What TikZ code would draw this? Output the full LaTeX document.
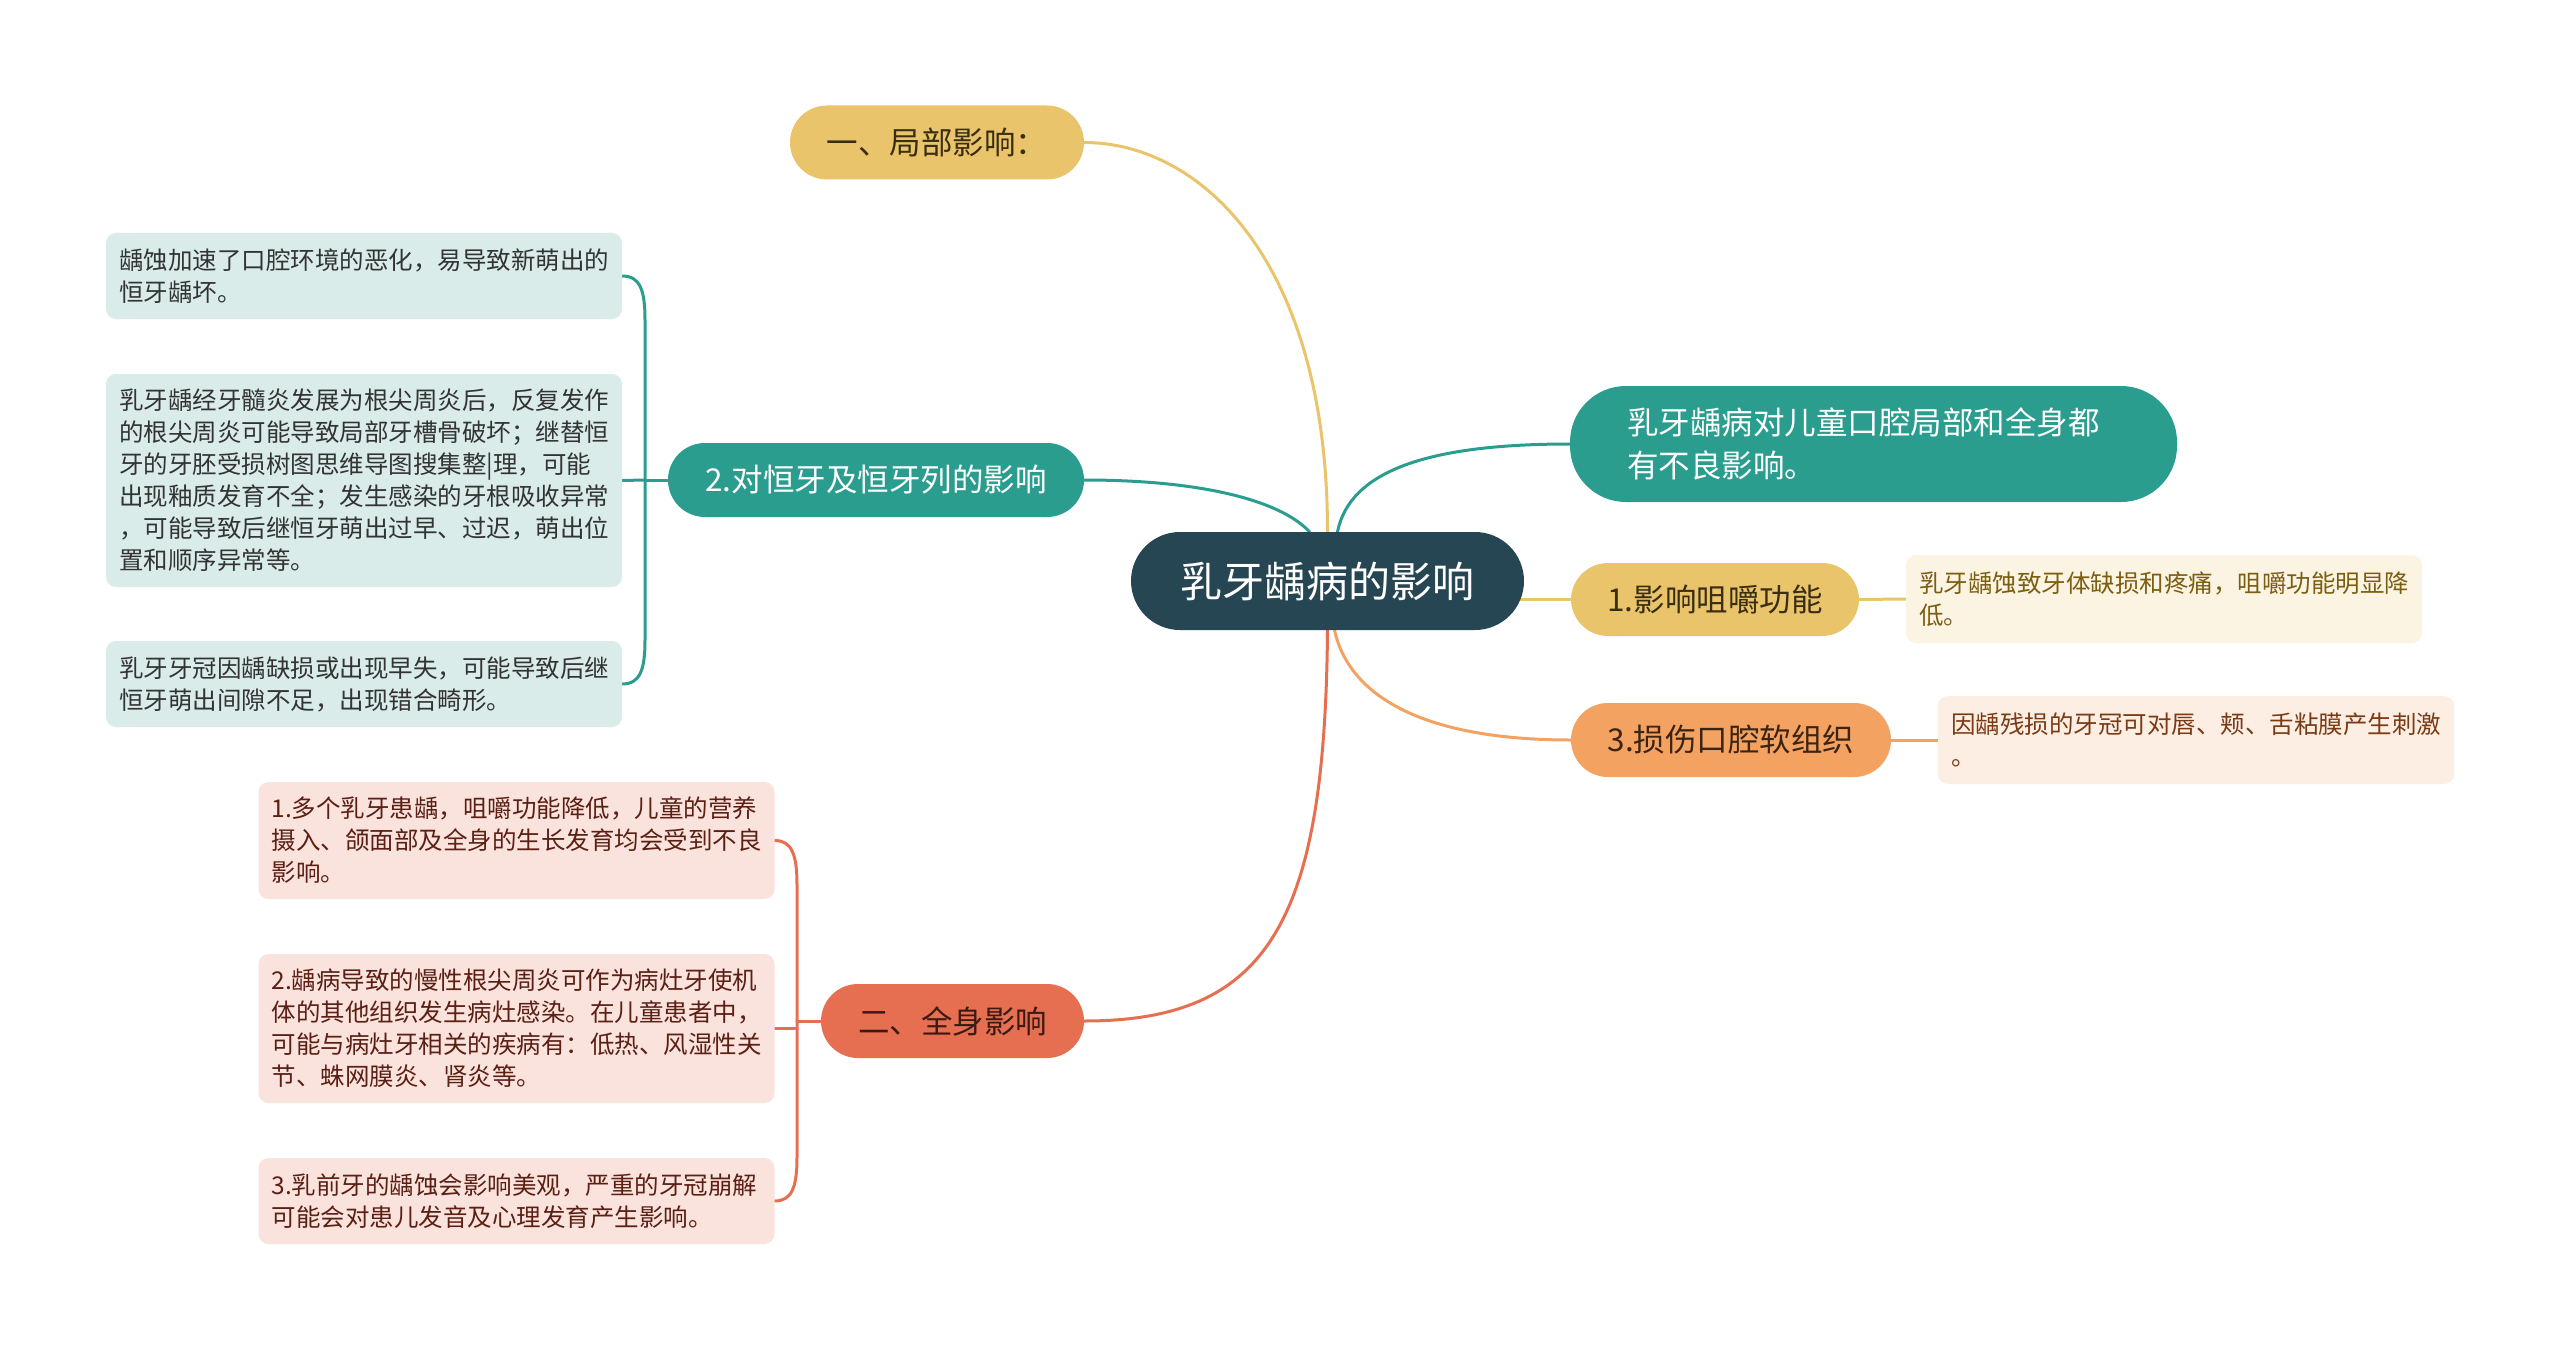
\documentclass[tikz,border=0pt]{standalone}
\usepackage{fontspec}
\setmainfont{Noto Sans CJK SC}
\usetikzlibrary{backgrounds}
\definecolor{cRoot}{HTML}{264653}
\definecolor{cTeal}{HTML}{2A9D8F}
\definecolor{cYel}{HTML}{E9C46A}
\definecolor{cOra}{HTML}{F4A261}
\definecolor{cRed}{HTML}{E76F51}
\definecolor{lTeal}{HTML}{D9ECE9}
\definecolor{lYel}{HTML}{FCF4E2}
\definecolor{lOra}{HTML}{FDEEE3}
\definecolor{lRed}{HTML}{FAE3DC}
\definecolor{tDark}{HTML}{333333}
\definecolor{tYelD}{HTML}{3A2E12}
\definecolor{tRedD}{HTML}{3B1A12}
\definecolor{tOraD}{HTML}{3B2412}
\definecolor{tYelL}{HTML}{7B5E12}
\definecolor{tOraL}{HTML}{7A3A14}
\definecolor{tRedL}{HTML}{5B1F14}
\begin{document}
\begin{tikzpicture}[x=1pt,y=-1pt,
  pill/.style={rounded corners=37pt, minimum height=74pt, inner xsep=0pt, inner ysep=0pt, align=center, font=\fontsize{31.5pt}{40pt}\selectfont},
  leafbox/.style={rounded corners=10pt, inner xsep=13pt, inner ysep=0pt, text width=490pt, align=left, font=\fontsize{24.5pt}{32pt}\selectfont},
  conn/.style={line width=3pt, line cap=round}
]
\useasboundingbox (0,0) rectangle (2560,1351);
% root
\node[fill=cRoot, text=white, rounded corners=49pt, minimum width=393pt, minimum height=98pt, inner sep=0pt, font=\fontsize{42pt}{50pt}\selectfont] (root) at (1327.5,581) {乳牙龋病的影响};
% branches
\node[pill, fill=cYel, text=tYelD, minimum width=294pt] (n1) at (937,142.5) {一、局部影响：};
\node[pill, fill=cTeal, text=white, minimum width=416pt] (n2) at (876,480) {2.对恒牙及恒牙列的影响};
\node[pill, fill=cRed, text=tRedD, minimum width=263pt] (n3) at (952.5,1021) {二、全身影响};
\node[fill=cTeal, text=white, rounded corners=56pt, minimum height=116pt, inner xsep=57pt, inner ysep=0pt, text width=493pt, align=left, font=\fontsize{31.5pt}{42.5pt}\selectfont] (rt) at (1873.5,444) {乳牙龋病对儿童口腔局部和全身都\\有不良影响。};
\node[pill, fill=cYel, text=tYelD, minimum width=288pt, minimum height=73pt] (y1) at (1715,599.5) {1.影响咀嚼功能};
\node[pill, fill=cOra, text=tOraD, minimum width=320pt] (o3) at (1731,740) {3.损伤口腔软组织};
% right leaves
\node[leafbox, fill=lYel, text=tYelL, minimum height=88pt] (ly) at (2164,599) {乳牙龋蚀致牙体缺损和疼痛，咀嚼功能明显降\\低。};
\node[leafbox, fill=lOra, text=tOraL, minimum height=88pt] (lo) at (2196,740) {因龋残损的牙冠可对唇、颊、舌粘膜产生刺激\\。};
% teal leaves
\node[leafbox, fill=lTeal, text=tDark, minimum height=86pt] (t1) at (364,276) {龋蚀加速了口腔环境的恶化，易导致新萌出的\\恒牙龋坏。};
\node[leafbox, fill=lTeal, text=tDark, minimum height=213pt] (t2) at (364,480.5) {乳牙龋经牙髓炎发展为根尖周炎后，反复发作\\的根尖周炎可能导致局部牙槽骨破坏；继替恒\\牙的牙胚受损树图思维导图搜集整|理，可能\\出现釉质发育不全；发生感染的牙根吸收异常\\，可能导致后继恒牙萌出过早、过迟，萌出位\\置和顺序异常等。};
\node[leafbox, fill=lTeal, text=tDark, minimum height=86pt] (t3) at (364,684) {乳牙牙冠因龋缺损或出现早失，可能导致后继\\恒牙萌出间隙不足，出现错合畸形。};
% red leaves
\node[leafbox, fill=lRed, text=tRedL, minimum height=117pt] (r1) at (516.5,840.5) {1.多个乳牙患龋，咀嚼功能降低，儿童的营养\\摄入、颌面部及全身的生长发育均会受到不良\\影响。};
\node[leafbox, fill=lRed, text=tRedL, minimum height=149pt] (r2) at (516.5,1028.5) {2.龋病导致的慢性根尖周炎可作为病灶牙使机\\体的其他组织发生病灶感染。在儿童患者中，\\可能与病灶牙相关的疾病有：低热、风湿性关\\节、蛛网膜炎、肾炎等。};
\node[leafbox, fill=lRed, text=tRedL, minimum height=86pt] (r3) at (516.5,1201) {3.乳前牙的龋蚀会影响美观，严重的牙冠崩解\\可能会对患儿发音及心理发育产生影响。};
% bracket points
\coordinate (tb) at (645,480);
\coordinate (rb) at (797,1021);
\begin{scope}[on background layer]
\fill[white] (0,0) rectangle (2560,1351);
% root connectors
\draw[conn, cYel] (n1.east) .. controls (1200,142.5) and (1327.5,260) .. (root.north);
\draw[conn, cTeal] (n2.east) .. controls (1200,480) and (1280,500) .. ([xshift=-18pt]root.north);
\draw[conn, cTeal] ([xshift=10pt]root.north) .. controls (1350,470) and (1430,444) .. (rt.west);
\draw[conn, cYel] (root.center |- y1.west) -- (y1.west);
\draw[conn, cYel] (y1.east) -- (ly.west);
\draw[conn, cOra] ([xshift=7pt]root.south) .. controls (1350,700) and (1430,740) .. (o3.west);
\draw[conn, cOra] (o3.east) -- (lo.west);
\draw[conn, cRed] (root.south) .. controls (1325,920) and (1270,1021) .. (n3.east);
% teal bracket
\draw[conn, cTeal] (n2.west) -- (tb);
\draw[conn, cTeal] (tb) -- (645,320) .. controls (645,290) and (640,276) .. (t1.east);
\draw[conn, cTeal] (tb) -- (t2.east);
\draw[conn, cTeal] (tb) -- (645,640) .. controls (645,670) and (640,684) .. (t3.east);
% red bracket
\draw[conn, cRed] (n3.west) -- (rb);
\draw[conn, cRed] (rb) -- (797,885) .. controls (797,855) and (792,840.5) .. (r1.east);
\draw[conn, cRed] (797,1028.5) -- (r2.east);
\draw[conn, cRed] (rb) -- (797,1157) .. controls (797,1187) and (792,1201) .. (r3.east);
\end{scope}
\end{tikzpicture}
\end{document}
